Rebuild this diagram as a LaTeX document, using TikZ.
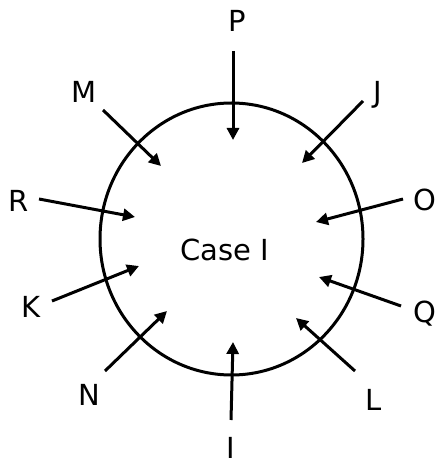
\documentclass[tikz,border=0pt]{standalone}
\usepackage{fontspec}
\setmainfont{DejaVu Sans}
\usetikzlibrary{arrows.meta}
\begin{document}
\begin{tikzpicture}[x=1pt,y=-1pt,
  lbl/.style={inner sep=0pt,font=\fontsize{29}{31}\selectfont},
  arr/.style={line width=3pt,-{Triangle[length=12pt,width=12pt]}},
  ring/.style={line width=3pt}]
\useasboundingbox (0,0) rectangle (440,465);
\draw[ring] (231.5,239) ellipse [x radius=131.5pt, y radius=136pt];
\node[lbl] (case) at (225,250) {Case I};
% labels
\node[lbl] (P) at (237,21) {P};
\node[lbl] (M) at (84,92) {M};
\node[lbl] (J) at (378,95) {J};
\node[lbl] (R) at (19,201) {R};
\node[lbl] (O) at (425,200) {O};
\node[lbl] (K) at (31,307) {K};
\node[lbl] (Q) at (425,314) {Q};
\node[lbl] (N) at (89,395) {N};
\node[lbl] (L) at (374,400) {L};
\node[lbl] (I) at (231,448) {I};
% arrow coordinates
\coordinate (p1) at (233,51); \coordinate (p2) at (233,140);
\coordinate (m1) at (103,110); \coordinate (m2) at (161,166);
\coordinate (j1) at (363,101); \coordinate (j2) at (302,163);
\coordinate (r1) at (39,199); \coordinate (r2) at (135,217);
\coordinate (o1) at (403,199); \coordinate (o2) at (316,222);
\coordinate (k1) at (52,301); \coordinate (k2) at (139,266);
\coordinate (q1) at (401,306); \coordinate (q2) at (319,277);
\coordinate (n1) at (105,371); \coordinate (n2) at (167,311);
\coordinate (l1) at (355,371); \coordinate (l2) at (296,318);
\coordinate (i1) at (231,420); \coordinate (i2) at (233,342);
\draw[arr] (p1) -- (p2);
\draw[arr] (m1) -- (m2);
\draw[arr] (j1) -- (j2);
\draw[arr] (r1) -- (r2);
\draw[arr] (o1) -- (o2);
\draw[arr] (k1) -- (k2);
\draw[arr] (q1) -- (q2);
\draw[arr] (n1) -- (n2);
\draw[arr] (l1) -- (l2);
\draw[arr] (i1) -- (i2);
\end{tikzpicture}
\end{document}
